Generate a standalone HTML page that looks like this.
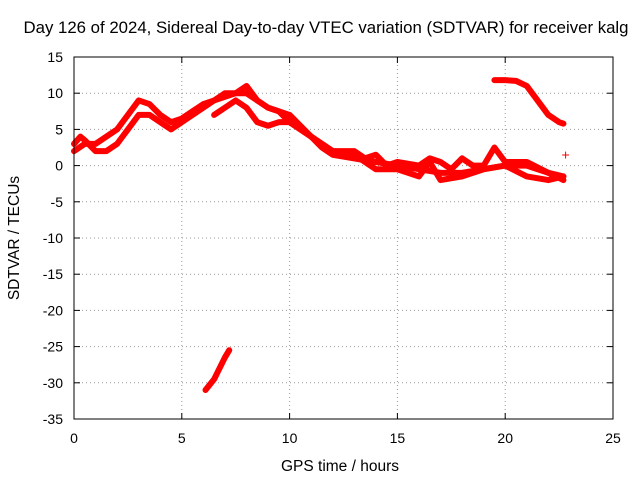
<!DOCTYPE html>
<html><head><meta charset="utf-8"><style>
body{margin:0;background:#fff;}
svg{display:block;font-family:"Liberation Sans",sans-serif;}
</style></head><body>
<svg id="chart" width="640" height="480">
<text x="326" y="33" text-anchor="middle" font-size="16.8">Day 126 of 2024, Sidereal Day-to-day VTEC variation (SDTVAR) for receiver kalg</text>
<text x="340" y="471" text-anchor="middle" font-size="15.5">GPS time / hours</text>
<text transform="translate(19,238) rotate(-90)" text-anchor="middle" font-size="15.5">SDTVAR / TECUs</text>
<g id="grid"></g><g id="ticks"></g><g id="marks"></g>
<rect x="74" y="57" width="539" height="362" fill="none" stroke="#000"/>
</svg>
<script>
const xTicks=[0,5,10,15,20,25];
const yTicks=[15,10,5,0,-5,-10,-15,-20,-25,-30,-35];
const trackA=[[0,3],[0.3,4],[0.5,3.5],[1,2],[1.5,2],[2,3],[2.5,5],[3,7],[3.5,7],[4,6],[4.5,5],[5,6],[5.5,7],[6,8],[6.5,9],[7,10],[7.5,10],[8,10],[8.5,9],[9,8],[9.5,7.5],[10,6],[10.5,5],[11,4],[11.5,2.5],[12,1.5],[13,1],[14,0.5],[15,0],[16,-0.5],[17,-1],[18,-1],[19,-0.5],[20,0],[21,0],[22,-1],[22.7,-1.5]];
const trackB=[[0,2],[0.5,3],[1,3],[1.5,4],[2,5],[2.5,7],[3,9],[3.5,8.5],[4,7],[4.5,6],[5,6.5],[5.5,7.5],[6,8.5],[6.5,9],[7,9.5],[7.5,10],[8,11],[8.5,9],[9,8],[10,7],[11,4],[12,2],[13,2],[13.5,1],[14,1.5],[14.5,0],[15,0.5],[16,0],[16.5,1],[17,0.5],[17.5,-0.5],[18,1],[18.5,0],[19,0],[19.5,2.5],[20,0.5],[21,0.5],[22,-1],[22.7,-2]];
const trackC=[[6.5,7],[7,8],[7.5,9],[8,8],[8.5,6],[9,5.5],[9.5,6],[10,6],[11,4],[12,2],[13,1.5],[14,-0.5],[15,-0.5],[16,-1.5],[16.5,0.5],[17,-2],[18,-1.5],[19,-0.5],[20,0],[21,-1.5],[22,-2],[22.7,-1.5]];
const trackD=[[6.1,-31],[6.5,-29.5],[7,-26.5],[7.2,-25.5]];
const trackE=[[19.5,11.8],[20,11.8],[20.5,11.7],[21,11],[21.5,9],[22,7],[22.5,6],[22.7,5.8]];
const singlePoints=[[22.8,1.5]];
const X=v=>74+(v-0)*(613-74)/25;
const Y=v=>57+(15-v)*(419-57)/50;
const NS="http://www.w3.org/2000/svg";
const grid=document.getElementById('grid'),ticks=document.getElementById('ticks'),marks=document.getElementById('marks');
function mk(tag,attrs,parent){const e=document.createElementNS(NS,tag);for(const k in attrs)e.setAttribute(k,attrs[k]);parent.appendChild(e);return e;}
xTicks.forEach(t=>{
 if(t>0&&t<25){const g=mk('line',{x1:X(t),x2:X(t),y1:57,y2:419,stroke:'#999','stroke-dasharray':'1,3'},grid);
 
 }
 const l=mk('text',{x:X(t),y:443,'text-anchor':'middle','font-size':'14'},ticks);l.textContent=t;
 
 
 mk('line',{x1:X(t),x2:X(t),y1:419,y2:413,stroke:'#000'},ticks);
 mk('line',{x1:X(t),x2:X(t),y1:57,y2:63,stroke:'#000'},ticks);
});
yTicks.forEach(t=>{
 if(t<15&&t>-35){const g=mk('line',{x1:74,x2:613,y1:Y(t),y2:Y(t),stroke:'#999','stroke-dasharray':'1,3'},grid);
 
 }
 const l=mk('text',{x:63,y:Y(t)+5,'text-anchor':'end','font-size':'14'},ticks);l.textContent=t;
 
 
 mk('line',{x1:74,x2:80,y1:Y(t),y2:Y(t),stroke:'#000'},ticks);
 mk('line',{x1:613,x2:607,y1:Y(t),y2:Y(t),stroke:'#000'},ticks);
});
[trackA,trackB,trackC,trackD,trackE].forEach((tr,i)=>{
 const p=mk('polyline',{points:tr.map(d=>X(d[0])+','+Y(d[1])).join(' '),fill:'none',stroke:'#f00','stroke-width':6,'stroke-linejoin':'round','stroke-linecap':'round'},marks);
 
 
});
singlePoints.forEach(d=>{
 const t=mk('text',{x:X(d[0]),y:Y(d[1])+5,'text-anchor':'middle','font-size':'14',fill:'#f00'},marks);t.textContent='+';
 
 
});
</script>
</body></html>
